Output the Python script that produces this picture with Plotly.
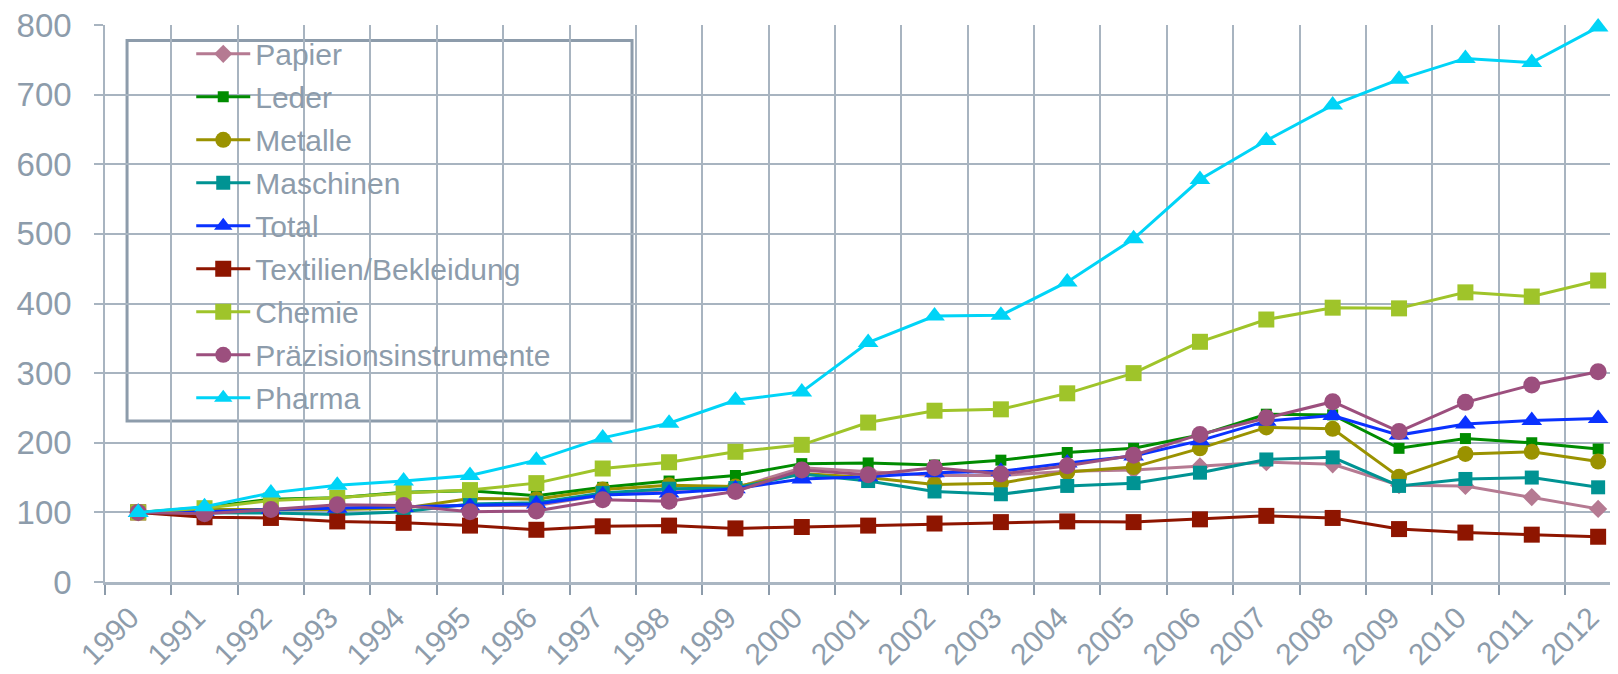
import plotly.graph_objects as go

years = [str(y) for y in range(1990, 2013)]

papier = [100, 102, 104, 106, 108, 110, 110, 125, 133, 135, 164, 159, 153, 153, 159, 161, 166, 172, 169, 139, 138, 122, 105]
leder = [100, 107, 119, 121, 129, 131, 124, 136, 145, 153, 170, 171, 168, 175, 186, 192, 211, 241, 240, 192, 206, 200, 191]
metalle = [100, 104, 104, 104, 106, 120, 119, 133, 139, 137, 156, 150, 140, 142, 158, 165, 192, 222, 220, 151, 184, 187, 173]
maschinen = [100, 100, 99, 97, 101, 112, 114, 128, 134, 135, 155, 145, 130, 126, 138, 142, 157, 176, 179, 138, 148, 150, 136]
total = [100, 101, 104, 106, 107, 109, 112, 125, 128, 134, 148, 151, 157, 159, 171, 181, 203, 231, 239, 211, 227, 232, 235]
textilien = [100, 93, 92, 87, 85, 81, 75, 80, 81, 77, 79, 81, 84, 86, 87, 86, 90, 95, 92, 76, 71, 68, 65]
chemie = [100, 106, 117, 121, 128, 132, 142, 163, 172, 187, 197, 229, 246, 248, 271, 300, 345, 377, 394, 393, 416, 410, 433]
praezision = [100, 98, 104, 111, 110, 101, 102, 118, 116, 130, 161, 154, 164, 155, 167, 182, 212, 236, 259, 216, 258, 283, 302]
pharma = [100, 108, 128, 139, 145, 153, 175, 207, 228, 261, 273, 344, 382, 383, 431, 493, 578, 634, 685, 722, 752, 746, 797]

series = [
    ("Papier", papier, "#b57a92", "diamond", 14),
    ("Leder", leder, "#008c00", "square", 11),
    ("Metalle", metalle, "#9a9200", "circle", 16),
    ("Maschinen", maschinen, "#009393", "square", 14),
    ("Total", total, "#0a32ff", "triangle-up", 18),
    ("Textilien/Bekleidung", textilien, "#8e1500", "square", 16),
    ("Chemie", chemie, "#9fc42a", "square", 16),
    ("Präzisionsinstrumente", praezision, "#9c4f7e", "circle", 17),
    ("Pharma", pharma, "#00d4f7", "triangle-up", 18),
]

TXT = "#8d9cab"
GRID = "#a8b4c0"
FONT = "Liberation Sans, Arial, sans-serif"

fig = go.Figure()
for i, (name, vals, col, sym, sz) in enumerate(series):
    fig.add_trace(go.Scatter(
        x=years, y=vals, name=name, mode="lines+markers",
        line=dict(color=col, width=3),
        marker=dict(symbol=sym, size=sz, color=col, line=dict(width=0)),
        legendgroup=name, cliponaxis=False,
    ))

fig.update_layout(
    width=1618, height=674,
    margin=dict(l=97, r=0, t=17, b=100),
    paper_bgcolor="white", plot_bgcolor="white",
    font=dict(family=FONT, color=TXT, size=33),
    showlegend=True,
    legend=dict(
        x=0.0567, y=0.995, xanchor="left", yanchor="top",
        bgcolor="rgba(0,0,0,0)", borderwidth=0,
        font=dict(size=30, color=TXT, family=FONT),
        traceorder="grouped", tracegroupgap=1, itemwidth=54,
    ),
    shapes=[dict(
        type="rect", xref="paper", yref="paper",
        x0=0.0145, x1=0.3465, y0=0.289, y1=0.972,
        line=dict(color="#8d9cab", width=3), fillcolor="white", layer="between",
    )],
)

fig.update_xaxes(
    type="category", range=[-0.5, 22.42],
    tickson="boundaries", tickangle=-45,
    showgrid=True, gridcolor=GRID, gridwidth=1.5,
    ticks="outside", ticklen=10, tickwidth=2, tickcolor=TXT,
    showline=True, linecolor="#aab6c2", linewidth=3,
    tickfont=dict(size=30, color=TXT, family=FONT),
    ticklabelstandoff=3, ticklabelshift=-8,
)
fig.update_yaxes(
    range=[0, 800], dtick=100, tick0=0,
    showgrid=True, gridcolor=GRID, gridwidth=1.5,
    zeroline=False,
    ticks="outside", ticklen=9, tickwidth=1.5, tickcolor=GRID,
    showline=True, linecolor=GRID, linewidth=1.5,
    tickfont=dict(size=33, color=TXT, family=FONT),
    ticklabelstandoff=16, ticklabeloverflow="allow",
)

fig.write_html("out.html")
